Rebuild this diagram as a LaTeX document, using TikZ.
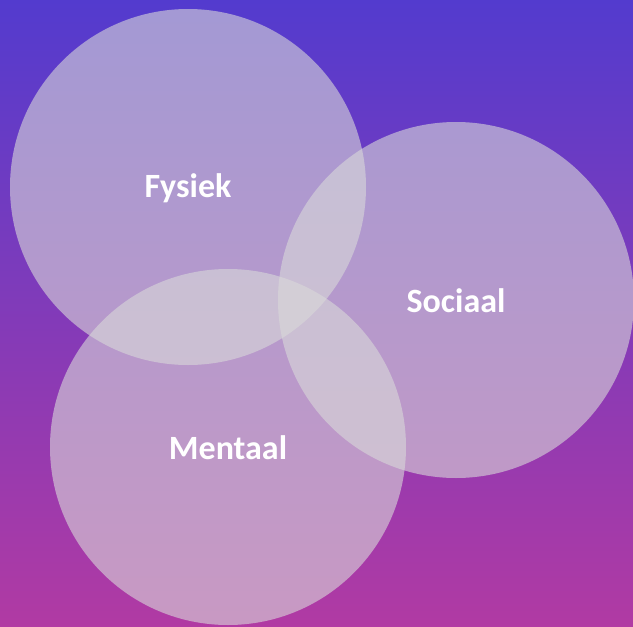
\documentclass[tikz,border=0pt]{standalone}
\usepackage{fontspec}
\setmainfont{Carlito}
\definecolor{bgtop}{HTML}{533BCE}
\definecolor{bgbot}{HTML}{B13AA3}
\definecolor{disc}{HTML}{D9D9D9}

\begin{document}
\begin{tikzpicture}[x=1pt,y=-1pt,
    every node/.style={text=white,font=\fontsize{34}{40}\selectfont\bfseries},
    blob/.style={circle,fill=disc,fill opacity=0.6,text opacity=1,minimum size=356pt,inner sep=0pt}]
    \shade[top color=bgtop,bottom color=bgbot] (0,0) rectangle (633,627);
    \useasboundingbox (0,0) rectangle (633,627);
    \node[blob] (fys) at (188,187) {};
    \node[blob] (soc) at (456,300) {};
    \node[blob] (men) at (228,447) {};
    \node at ([yshift=-1pt]fys) {Fysiek};
    \node at ([yshift=-1pt]soc) {Sociaal};
    \node at ([yshift=-1pt]men) {Mentaal};
\end{tikzpicture}
\end{document}
